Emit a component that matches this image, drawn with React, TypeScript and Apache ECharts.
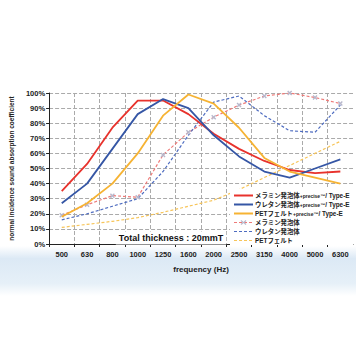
import React, { useEffect, useRef } from "react";
import * as echarts from "echarts";

const categories = ["500", "630", "800", "1000", "1250", "1600", "2000", "2500", "3150", "4000", "5000", "6300"];
const seriesBase = ["メラミン発泡体", "ウレタン発泡体", "PETフェルト", "メラミン発泡体", "ウレタン発泡体", "PETフェルト"];
const seriesSuffix = ["+precise™/ Type-E", "+precise™/ Type-E", "+precise™/ Type-E", "", "", ""];
const melaminePrecise = [35, 53, 77, 95, 95, 86, 73, 63, 55, 49, 47, 48];
const urethanePrecise = [27, 40, 63, 86, 96, 90, 72, 58, 48, 44, 50, 56];
const petPrecise = [18, 27, 40, 60, 85, 99, 93, 77, 57, 48, 44, 40];
const melamine = [19, 26, 32, 31, 59, 74, 84, 92, 98, 100, 97, 93];
const urethane = [16, 20, 25, 30, 48, 72, 94, 98, 85, 75, 74, 92];
const pet = [11, 13, 15, 17.5, 21, 25, 29, 36, 44, 52, 60, 68];
const yTicks = [0, 10, 20, 30, 40, 50, 60, 70, 80, 90, 100];

const FONT = "Liberation Sans, Arial, sans-serif";
const CJK = "Liberation Sans, Noto Sans CJK JP, sans-serif";

const COLORS = ["#e8322c", "#3556a5", "#f6b333", "#ee7a78", "#4e6cc0", "#f7c55a"];
const DASHED = [false, false, false, true, true, true];
const MARKER = [false, false, false, true, false, false];

export default function App() {
  const ref = useRef<HTMLDivElement>(null);
  useEffect(() => {
    if (!ref.current) return;
    const chart = echarts.init(ref.current, undefined, { renderer: "svg" });
    const xMark = "path://M2,0L5,3L8,0L10,2L7,5L10,8L8,10L5,7L2,10L0,8L3,5L0,2Z";
    const names = seriesBase.map((b, i) => b + seriesSuffix[i]);
    const datas = [melaminePrecise, urethanePrecise, petPrecise, melamine, urethane, pet];
    const series = datas.map((data, i) => ({
      name: names[i],
      type: "line",
      data,
      symbol: MARKER[i] ? xMark : "none",
      symbolSize: 5,
      showSymbol: MARKER[i],
      itemStyle: { color: MARKER[i] ? "#b8b8cc" : COLORS[i] },
      lineStyle: { color: COLORS[i], width: DASHED[i] ? 1.2 : 1.8, type: DASHED[i] ? [3, 2] : "solid" },
      z: DASHED[i] ? 2 : 3,
    }));

    // manual legend
    const lx = 230, ly = 189, lw = 123, lh = 56, rowH = 9, row0 = 195.5;
    const legendEls: any[] = [
      { type: "rect", shape: { x: lx, y: ly, width: lw, height: lh }, style: { fill: "#ffffff" }, z: 20 },
    ];
    names.forEach((_, i) => {
      const cy = row0 + i * rowH;
      legendEls.push({
        type: "line",
        shape: { x1: 234, y1: cy, x2: 253, y2: cy },
        style: { stroke: COLORS[i], lineWidth: DASHED[i] ? 1.2 : 2, lineDash: DASHED[i] ? [3, 2] : null },
        z: 21,
      });
      if (MARKER[i]) {
        legendEls.push({
          type: "polygon",
          shape: { points: [[241.5, cy - 2.5], [243.5, cy - 0.5], [245.5, cy - 2.5], [246.5, cy - 1.5], [244.5, cy], [246.5, cy + 1.5], [245.5, cy + 2.5], [243.5, cy + 0.5], [241.5, cy + 2.5], [240.5, cy + 1.5], [242.5, cy], [240.5, cy - 1.5]] },
          style: { fill: "#b8b8cc" },
          z: 22,
        });
      }
      const text = seriesSuffix[i]
        ? `{a|${seriesBase[i]}}{b|+precise™}{a|/ Type-E}`
        : `{a|${seriesBase[i]}}`;
      legendEls.push({
        type: "text",
        x: 255,
        y: cy,
        style: {
          text,
          verticalAlign: "middle",
          fill: "#222",
          rich: {
            a: { fontSize: 6.4, fontFamily: CJK, fontWeight: "bold", fill: "#222" },
            b: { fontSize: 5, fontFamily: FONT, fontWeight: "bold", fill: "#222" },
          },
        },
        z: 22,
      });
    });

    chart.setOption({
      animation: false,
      backgroundColor: "#ffffff",
      graphic: [
        {
          type: "rect",
          left: 0,
          top: 246,
          shape: { width: 356, height: 50 },
          style: {
            fill: new echarts.graphic.LinearGradient(0, 0, 0, 1, [
              { offset: 0, color: "rgba(255,255,255,1)" },
              { offset: 0.25, color: "rgba(220,233,245,1)" },
              { offset: 0.75, color: "rgba(230,240,248,1)" },
              { offset: 1, color: "rgba(255,255,255,1)" },
            ]),
          },
          z: -10,
          silent: true,
        },
        {
          type: "text",
          x: 171,
          y: 238,
          style: {
            text: "Total thickness : 20mmT",
            font: `bold 9px ${FONT}`,
            fill: "#111",
            align: "center",
            verticalAlign: "middle",
            backgroundColor: "#ffffff",
            padding: [2, 3, 2, 3],
          },
          z: 10,
        },
        ...legendEls,
      ],
      grid: { left: 46, right: 3, top: 93, bottom: 112, containLabel: false },
      xAxis: {
        type: "category",
        data: categories,
        boundaryGap: true,
        name: "frequency (Hz)",
        nameLocation: "middle",
        nameGap: 21,
        nameTextStyle: { fontSize: 8, fontFamily: FONT, color: "#222", fontWeight: "bold" },
        axisLine: { lineStyle: { color: "#222", width: 1 } },
        axisTick: { show: true, length: 3, lineStyle: { color: "#222" } },
        axisLabel: { fontSize: 7.5, fontFamily: FONT, color: "#222", margin: 6, fontWeight: "bold" },
        splitLine: { show: true, lineStyle: { color: "#aaaaaa", type: [4, 2], width: 1 } },
      },
      yAxis: {
        type: "value",
        min: yTicks[0],
        max: yTicks[yTicks.length - 1],
        interval: 10,
        name: "normal incidence sound absorption coefficient",
        nameLocation: "middle",
        nameGap: 33,
        nameTextStyle: { fontSize: 6.5, fontFamily: FONT, color: "#222", fontWeight: "bold" },
        axisLine: { show: true, lineStyle: { color: "#222", width: 1 } },
        axisTick: { show: true, length: 3, lineStyle: { color: "#222" } },
        axisLabel: { fontSize: 7.5, fontFamily: FONT, color: "#222", formatter: "{value}%", margin: 4, fontWeight: "bold" },
        splitLine: { show: true, lineStyle: { color: "#aaaaaa", type: [4, 2], width: 1 } },
      },
      series,
    });
    return () => chart.dispose();
  }, []);
  return <div ref={ref} style={{ position: "fixed", left: 0, top: 0, width: 356, height: 356 }} />;
}
